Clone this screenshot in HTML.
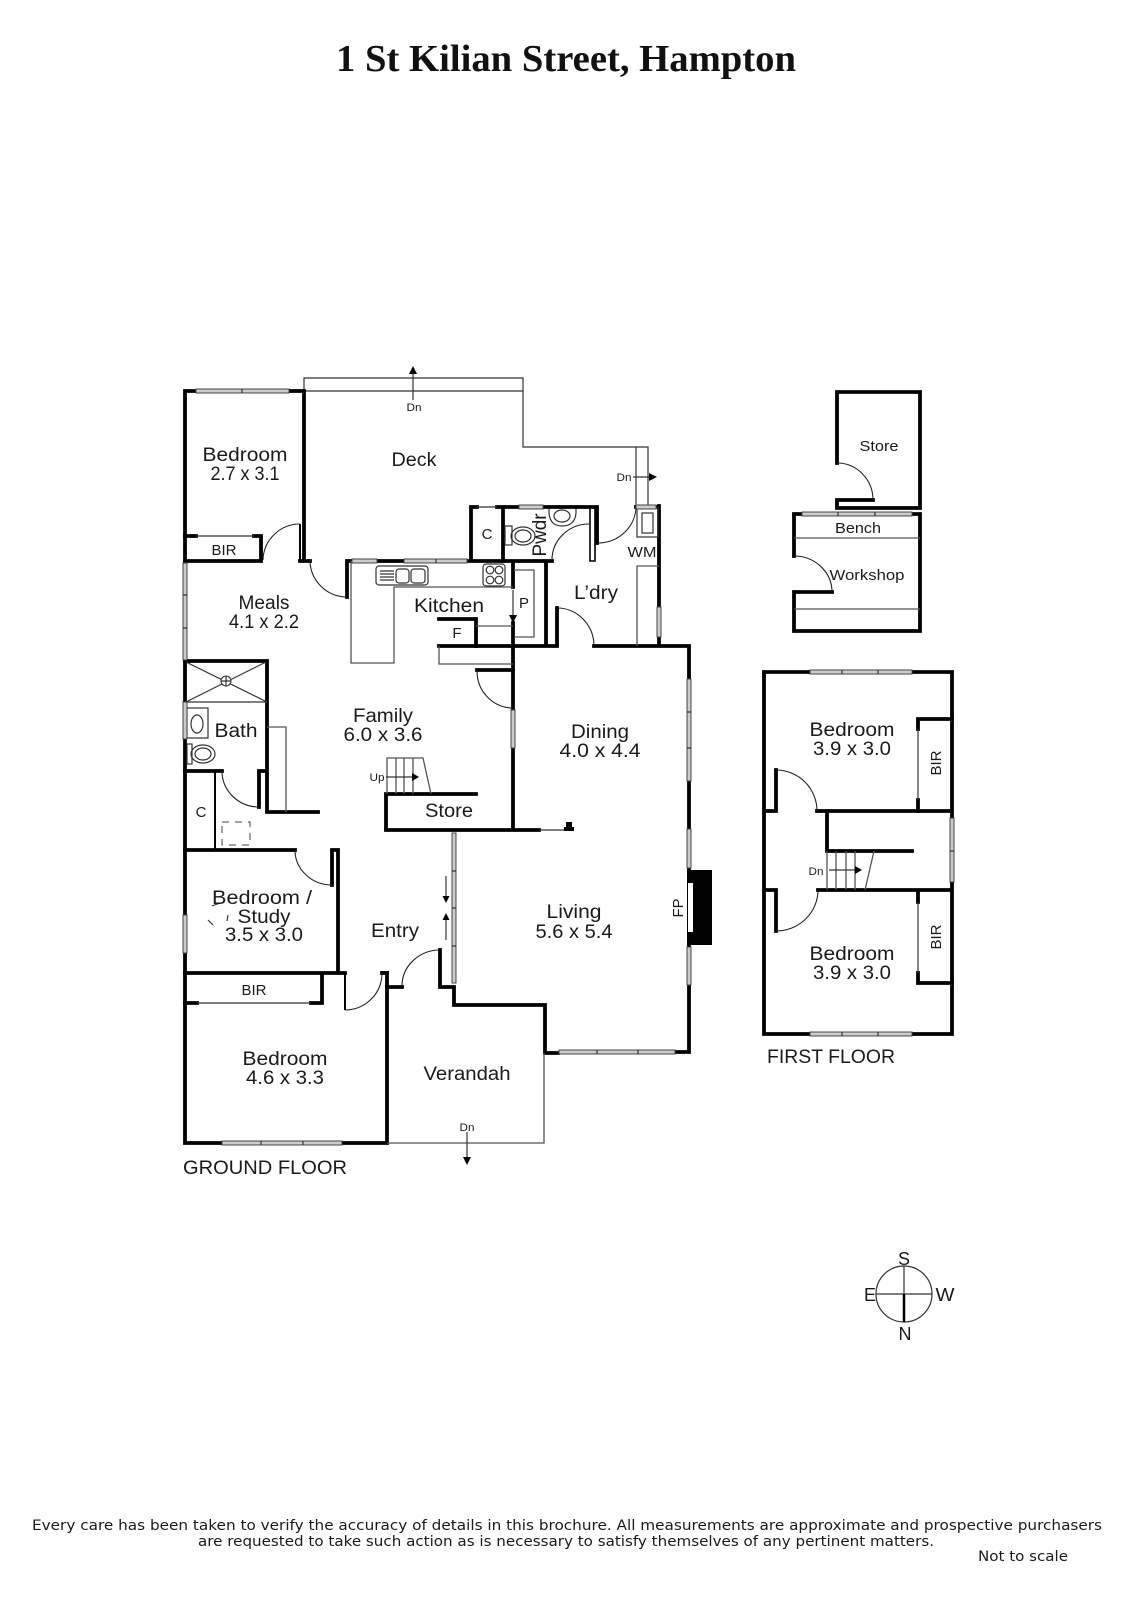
<!DOCTYPE html>
<html lang="en"><head><meta charset="utf-8"><title>1 St Kilian Street, Hampton</title>
<style>
html,body{margin:0;padding:0;background:#fff}
svg{display:block}
text{font-family:"Liberation Sans",sans-serif;font-size:19px;fill:#1a1a1a;text-anchor:middle}
.s{font-size:15px}.xs{font-size:11px}
.w{fill:none;stroke:#000;stroke-width:3.8;stroke-linecap:square;stroke-linejoin:miter}
.m{fill:none;stroke:#000;stroke-width:2}
.t{fill:none;stroke:#333;stroke-width:1.2}
.g{fill:none;stroke:#555;stroke-width:1.3}
.a{fill:none;stroke:#222;stroke-width:1.1}
.win{fill:#ccc;stroke:#444;stroke-width:1}
</style></head><body>
<svg width="1131" height="1600" viewBox="0 0 1131 1600" xmlns="http://www.w3.org/2000/svg">
<rect width="1131" height="1600" fill="#fff"/>
<text x="566" y="71" textLength="460" lengthAdjust="spacingAndGlyphs" style="font-family:'Liberation Serif',serif;font-weight:bold;font-size:38px;fill:#111">1 St Kilian Street, Hampton</text>

<!-- Deck outlines -->
<path class="t" d="M304 391V378H523V447H648V506M304 391H523M636 447V506"/>
<path d="M413 400V372" class="t"/><path d="M413 366l-4 8h8z"/>
<path d="M633 477H650" class="t"/><path d="M657 477l-8-4v8z"/>

<!-- Ground floor walls -->
<path class="w" d="M185 391V1143H387V973H383M185 391H304V561M300 561H310"/>
<path class="m" d="M300 524V561"/>
<path class="w" d="M185 561H261V536H254M185 536H196"/><path class="t" d="M196 536H254"/>
<path class="w" d="M347 597V561H504M471 561V507H477M503 561V507H597V543M497 507H503"/>
<path class="t" d="M477 507H497"/>
<path fill="none" stroke="#000" stroke-width="1.6" d="M590 509V561H595V507"/>
<path class="w" d="M503 561H552M513 561V587M513 623V670H477M546 561V646M439 646H557V608M594 646H689V1052H675M659 506V646M636 507H659"/>
<path class="w" d="M439 619H476V646"/>
<path class="w" d="M513 670V830M386 830H539M386 830V794H476"/><path class="t" d="M539 830H565"/>
<rect x="566" y="822" width="6" height="6"/><rect x="564" y="827" width="10" height="4"/>
<path class="w" d="M185 661H267V812H318M185 771H222M259 807V771H267"/>
<path class="w" d="M185 850H295M332 885V850H338V973M185 973H345M322 973V1003H311M185 1003H197"/>
<path class="t" d="M197 1003H311"/>
<path class="m" d="M345 973V1010"/>
<path class="w" d="M382 973H387M387 987H402M440 950V987H454V1005H545V1053H558"/>
<path class="m" d="M215 771V850"/>

<!-- Thin lines: kitchen, bath, verandah -->
<path class="g" d="M351 561V663H394V587H513M439 646V664H513M476 626H513M514 570H534V637H514"/>
<path class="t" d="M513 590V616"/><path d="M513 623l-4-8h8z"/>
<path class="g" d="M267 727H286V812"/>
<path class="g" d="M387 1143H544V1053"/>
<path class="t" d="M467 1132V1158"/><path d="M467 1165l-4-8h8z"/>

<!-- Shower -->
<path class="t" d="M185 702H267M186 662L267 702M266 662L186 702"/>
<circle cx="226" cy="681" r="5" fill="#fff" stroke="#333" stroke-width="1.1"/><path class="t" d="M221 681H231M226 676V686"/>
<!-- Basin -->
<rect x="187" y="708" width="21" height="30" class="t" fill="#fff"/><ellipse cx="197" cy="724" rx="6" ry="9" class="t"/>
<!-- Toilet -->
<rect x="187" y="744" width="5" height="20" class="t"/><ellipse cx="203" cy="754" rx="12" ry="9" class="t"/><ellipse cx="203" cy="754" rx="8" ry="6" class="t"/>
<!-- Pwdr fixtures -->
<rect x="505" y="526" width="7" height="19" class="t"/><ellipse cx="523" cy="536" rx="12" ry="9" class="t"/><ellipse cx="523" cy="536" rx="8" ry="6" class="t"/>
<path class="t" d="M549 509V513Q550 526 562 526Q575 526 576 513V509"/><ellipse cx="562" cy="516" rx="8" ry="6" class="t"/>
<!-- Sink -->
<rect x="376" y="566" width="52" height="19" rx="3" class="t"/>
<path class="t" d="M380 571H394M380 574H394M380 577H394M380 580H394"/>
<rect x="396" y="569" width="13" height="14" rx="3" class="t"/><rect x="411" y="569" width="14" height="14" rx="3" class="t"/>
<!-- Cooktop -->
<rect x="483" y="564" width="22" height="22" rx="3" class="t"/>
<circle cx="490" cy="570" r="3.8" class="t"/><circle cx="499" cy="570" r="3.8" class="t"/><circle cx="490" cy="580" r="3.8" class="t"/><circle cx="499" cy="580" r="3.8" class="t"/>
<!-- WM -->
<rect x="637" y="508" width="21" height="29" class="t"/><rect x="642" y="513" width="11" height="20" class="t"/>
<path class="g" d="M659 566H637V646"/>
<!-- Stairs -->
<path class="g" d="M387 794V758H423L431 794M396 758V794M404 758V794M413 758V794"/>
<path class="t" d="M386 777H414"/><path d="M419 777l-7-4v8z"/>
<!-- Entry arrows -->
<path class="t" d="M446 876V899M446 940V918"/><path d="M446 903l-3.500-7h7zM446 913l-3.500 7h7z"/>
<!-- Dashed -->
<rect x="222" y="822" width="28" height="23" fill="none" stroke="#444" stroke-width="1" stroke-dasharray="7 6"/>
<!-- ghost strokes -->
<path class="t" d="M212 906L220 903M208 920L213 925M228 915L227 921"/>

<!-- Doors -->
<path class="a" d="M263 560A37 37 0 0 1 300 524M310 560A37 37 0 0 0 347 597M552 560A37 36 0 0 1 589 524M598 543A38 37 0 0 0 636 506M557 608A37 38 0 0 1 594 646M477 671A36 37 0 0 0 513 708M222 771A37 36 0 0 0 259 807M295 850A37 35 0 0 0 332 885M402 986A38 36 0 0 1 440 950M345 1010A37 37 0 0 0 382 973"/>

<!-- Windows -->
<g class="win">
<rect x="196" y="389" width="93" height="4"/>
<rect x="352" y="559" width="25" height="4"/><rect x="404" y="559" width="63" height="4"/>
<rect x="519" y="505" width="24" height="4"/><rect x="636" y="505" width="20" height="4"/>
<rect x="657" y="607" width="4" height="30"/>
<rect x="183" y="563" width="4" height="97"/><rect x="183" y="702" width="4" height="37"/><rect x="183" y="915" width="4" height="38"/>
<rect x="511" y="710" width="4" height="38"/>
<rect x="452" y="833" width="4" height="150"/>
<rect x="222" y="1141" width="120" height="4"/>
<rect x="559" y="1050" width="116" height="4"/>
<rect x="687" y="679" width="4" height="102"/><rect x="687" y="829" width="4" height="39"/><rect x="687" y="947" width="4" height="38"/>
</g>
<path class="t" d="M242 389V393M183 595H187M183 628H187M436 559V563M452 871H456M452 908H456M452 946H456M261 1141V1145M303 1141V1145M597 1050V1054M638 1050V1054M687 712H691M687 748H691"/>

<!-- Fireplace -->
<rect x="687" y="870" width="25" height="75"/><rect x="688" y="883" width="5" height="49" fill="#fff"/>

<!-- Outbuildings -->
<path class="w" d="M837 463V392H920V508H837V500H873"/>
<path class="a" d="M837 463A36 37 0 0 1 873 500"/>
<path class="w" d="M794 556V514H920V631H794V592H832"/>
<path class="a" d="M794 556A38 36 0 0 1 832 592"/>
<path class="g" d="M794 538H920M794 609H920"/>
<rect x="802" y="512" width="110" height="4" class="win"/><path class="t" d="M838 512V516M875 512V516"/>

<!-- First floor -->
<path class="w" d="M764 672H952V1034H764ZM764 811H776V770M817 811H952M827 811V851H912M818 890H952M764 890H776V931"/>
<path class="a" d="M776 770A41 41 0 0 1 817 811M776 931A42 41 0 0 0 818 890"/>
<path class="w" d="M952 719H918V729M918 800V811M918 892V902M918 973V983H952"/>
<path class="t" d="M918 729V800M918 902V973"/>
<path class="g" d="M827 851V890M836 851V890M846 851V890M855 851V890M874 851L865 890"/>
<path class="t" d="M829 870H856"/><path d="M862 870l-7-4v8z"/>
<rect x="810" y="670" width="102" height="4" class="win"/><rect x="810" y="1032" width="102" height="4" class="win"/><rect x="950" y="818" width="4" height="64" class="win"/>
<path class="t" d="M842 670V674M878 670V674M842 1032V1036M878 1032V1036M950 851H954"/>

<!-- Compass -->
<circle cx="904" cy="1294" r="28" fill="none" stroke="#333" stroke-width="1.2"/>
<path class="t" d="M876 1294H932M904 1266V1294"/><path d="M904 1294V1322" stroke="#000" stroke-width="2.5"/>

<!-- Labels -->
<text x="245" y="461" textLength="85" lengthAdjust="spacingAndGlyphs">Bedroom</text>
<text x="245" y="480" textLength="69" lengthAdjust="spacingAndGlyphs">2.7 x 3.1</text>
<text x="414" y="466" textLength="45" lengthAdjust="spacingAndGlyphs">Deck</text>
<text x="224" y="555" class="s" textLength="25" lengthAdjust="spacingAndGlyphs">BIR</text>
<text x="264" y="609" textLength="51" lengthAdjust="spacingAndGlyphs">Meals</text>
<text x="264" y="628" textLength="70" lengthAdjust="spacingAndGlyphs">4.1 x 2.2</text>
<text x="449" y="612" textLength="70" lengthAdjust="spacingAndGlyphs">Kitchen</text>
<text x="487" y="539" class="s">C</text>
<text x="457" y="638" class="s">F</text>
<text x="524" y="608" class="s">P</text>
<text x="596" y="599" textLength="44" lengthAdjust="spacingAndGlyphs">L’dry</text>
<text x="642" y="557" class="s" textLength="29" lengthAdjust="spacingAndGlyphs">WM</text>
<text transform="translate(546 535) rotate(-90)" textLength="43" lengthAdjust="spacingAndGlyphs">Pwdr</text>
<text x="383" y="722" textLength="60" lengthAdjust="spacingAndGlyphs">Family</text>
<text x="383" y="741" textLength="79" lengthAdjust="spacingAndGlyphs">6.0 x 3.6</text>
<text x="236" y="737" textLength="43" lengthAdjust="spacingAndGlyphs">Bath</text>
<text x="449" y="817" textLength="48" lengthAdjust="spacingAndGlyphs">Store</text>
<text x="377" y="781" class="xs" textLength="15" lengthAdjust="spacingAndGlyphs">Up</text>
<text x="201" y="817" class="s">C</text>
<text x="262" y="904" textLength="100" lengthAdjust="spacingAndGlyphs">Bedroom /</text>
<text x="264" y="923" textLength="53" lengthAdjust="spacingAndGlyphs">Study</text>
<text x="264" y="941" textLength="78" lengthAdjust="spacingAndGlyphs">3.5 x 3.0</text>
<text x="395" y="937" textLength="48" lengthAdjust="spacingAndGlyphs">Entry</text>
<text x="254" y="995" class="s" textLength="25" lengthAdjust="spacingAndGlyphs">BIR</text>
<text x="285" y="1065" textLength="85" lengthAdjust="spacingAndGlyphs">Bedroom</text>
<text x="285" y="1084" textLength="78" lengthAdjust="spacingAndGlyphs">4.6 x 3.3</text>
<text x="467" y="1080" textLength="87" lengthAdjust="spacingAndGlyphs">Verandah</text>
<text x="467" y="1131" class="xs" textLength="15" lengthAdjust="spacingAndGlyphs">Dn</text>
<text x="414" y="411" class="xs" textLength="15" lengthAdjust="spacingAndGlyphs">Dn</text>
<text x="624" y="481" class="xs" textLength="15" lengthAdjust="spacingAndGlyphs">Dn</text>
<text x="265" y="1174" textLength="164" lengthAdjust="spacingAndGlyphs">GROUND FLOOR</text>
<text x="600" y="738" textLength="58" lengthAdjust="spacingAndGlyphs">Dining</text>
<text x="600" y="757" textLength="81" lengthAdjust="spacingAndGlyphs">4.0 x 4.4</text>
<text x="574" y="918" textLength="55" lengthAdjust="spacingAndGlyphs">Living</text>
<text x="574" y="938" textLength="77" lengthAdjust="spacingAndGlyphs">5.6 x 5.4</text>
<text transform="translate(683 908) rotate(-90)" class="s" textLength="19" lengthAdjust="spacingAndGlyphs">FP</text>
<text x="879" y="451" class="s" textLength="39" lengthAdjust="spacingAndGlyphs">Store</text>
<text x="858" y="533" class="s" textLength="46" lengthAdjust="spacingAndGlyphs">Bench</text>
<text x="867" y="580" class="s" textLength="75" lengthAdjust="spacingAndGlyphs">Workshop</text>
<text x="852" y="736" textLength="85" lengthAdjust="spacingAndGlyphs">Bedroom</text>
<text x="852" y="755" textLength="78" lengthAdjust="spacingAndGlyphs">3.9 x 3.0</text>
<text x="852" y="960" textLength="85" lengthAdjust="spacingAndGlyphs">Bedroom</text>
<text x="852" y="979" textLength="78" lengthAdjust="spacingAndGlyphs">3.9 x 3.0</text>
<text transform="translate(941 763) rotate(-90)" class="s" textLength="25" lengthAdjust="spacingAndGlyphs">BIR</text>
<text transform="translate(941 937) rotate(-90)" class="s" textLength="25" lengthAdjust="spacingAndGlyphs">BIR</text>
<text x="816" y="875" class="xs" textLength="15" lengthAdjust="spacingAndGlyphs">Dn</text>
<text x="831" y="1063" textLength="128" lengthAdjust="spacingAndGlyphs">FIRST FLOOR</text>
<text x="904" y="1265" style="font-size:18px">S</text>
<text x="905" y="1340" style="font-size:18px">N</text>
<text x="870" y="1301" style="font-size:18px">E</text>
<text x="945" y="1301" style="font-size:18px;" textLength="19" lengthAdjust="spacingAndGlyphs">W</text>

<g style="font-family:'DejaVu Sans',sans-serif">
<text x="567" y="1530" textLength="1070" lengthAdjust="spacingAndGlyphs" style="font-family:'DejaVu Sans',sans-serif;font-size:14px">Every care has been taken to verify the accuracy of details in this brochure.  All measurements are approximate and prospective purchasers</text>
<text x="566" y="1546" textLength="736" lengthAdjust="spacingAndGlyphs" style="font-family:'DejaVu Sans',sans-serif;font-size:14px">are requested to take such action as is necessary to satisfy themselves of any pertinent matters.</text>
<text x="1023" y="1561" textLength="90" lengthAdjust="spacingAndGlyphs" style="font-family:'DejaVu Sans',sans-serif;font-size:14px">Not to scale</text>
</g>
</svg>
</body></html>
